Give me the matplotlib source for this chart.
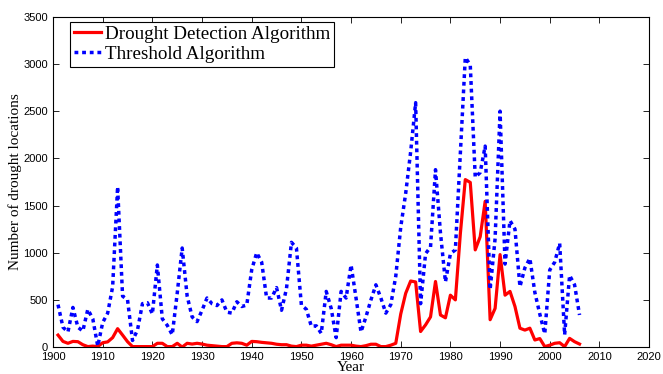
import numpy as np
import matplotlib
matplotlib.use("Agg")
import matplotlib.pyplot as plt

years = np.arange(1901, 2007)

# drought locations per year found by each method
detection = [127, 60, 40, 60, 57, 25, 5, 10, 5, 46,
             55, 100, 195, 127, 57, 5, 5, 5, 5, 5,
             40, 40, 5, 5, 40, 0, 40, 32, 40, 32,
             20, 15, 10, 5, 5, 40, 45, 40, 20, 60,
             57, 50, 45, 40, 30, 25, 25, 10, 5, 20,
             20, 10, 20, 30, 40, 25, 5, 20, 20, 20,
             10, 5, 15, 30, 30, 5, 5, 20, 40, 350,
             570, 700, 690, 165, 235, 320, 695, 340, 310, 550,
             500, 1200, 1775, 1745, 1030, 1170, 1545, 290, 410, 980,
             550, 590, 430, 200, 180, 200, 75, 90, 5, 20,
             40, 46, 5, 92, 57, 32]
threshold = [450, 210, 160, 420, 210, 170, 400, 300, 10, 260,
             360, 640, 1700, 540, 500, 70, 180, 460, 470, 350,
             870, 300, 230, 130, 570, 1050, 540, 320, 270, 390,
             520, 460, 440, 500, 370, 360, 480, 430, 445, 820,
             1000, 900, 520, 520, 630, 390, 620, 1110, 1050, 445,
             400, 220, 225, 145, 590, 410, 100, 590, 520, 870,
             520, 160, 320, 500, 660, 520, 360, 450, 750, 1270,
             1630, 2070, 2590, 460, 990, 1060, 1880, 1210, 690, 990,
             1030, 2050, 3070, 2990, 1800, 1850, 2130, 610, 1150, 2500,
             880, 1340, 1250, 640, 840, 940, 580, 350, 140, 817,
             900, 1100, 130, 760, 660, 340]

fig = plt.figure(figsize=(6.63, 3.74), dpi=100)
ax = fig.add_axes([0.080, 0.072, 0.899, 0.883])

ax.plot(years, detection, color='#ff0000', lw=2.3, label='Drought Detection Algorithm')
ax.plot(years, threshold, color='#0000ff', lw=2.5, linestyle=(0, (1.1, 1.1)),
        label='Threshold Algorithm')

ax.set_xlim(1900, 2020)
ax.set_ylim(0, 3500)
ax.set_xticks(np.arange(1900, 2021, 10))
ax.set_yticks(np.arange(0, 3501, 500))
ax.tick_params(direction='in', top=True, right=True, length=4, width=0.6,
               labelsize=8)
for lab in ax.get_xticklabels() + ax.get_yticklabels():
    lab.set_family('Liberation Sans')
for sp in ax.spines.values():
    sp.set_linewidth(0.8)

ax.set_xlabel('Year', family='Liberation Serif', fontsize=11, labelpad=-1)
ax.set_ylabel('Number of drought locations', family='Liberation Serif',
              fontsize=11, labelpad=1)

leg = ax.legend(loc='upper left', bbox_to_anchor=(0.029, 0.985),
                prop={'family': 'Liberation Serif', 'size': 13.7},
                handlelength=1.4, handletextpad=0.2, borderpad=0.2,
                labelspacing=0.15, borderaxespad=0, fancybox=False,
                framealpha=1)
leg.get_frame().set_edgecolor('black')
leg.get_frame().set_linewidth(0.8)

plt.savefig('out.png', dpi=100)
